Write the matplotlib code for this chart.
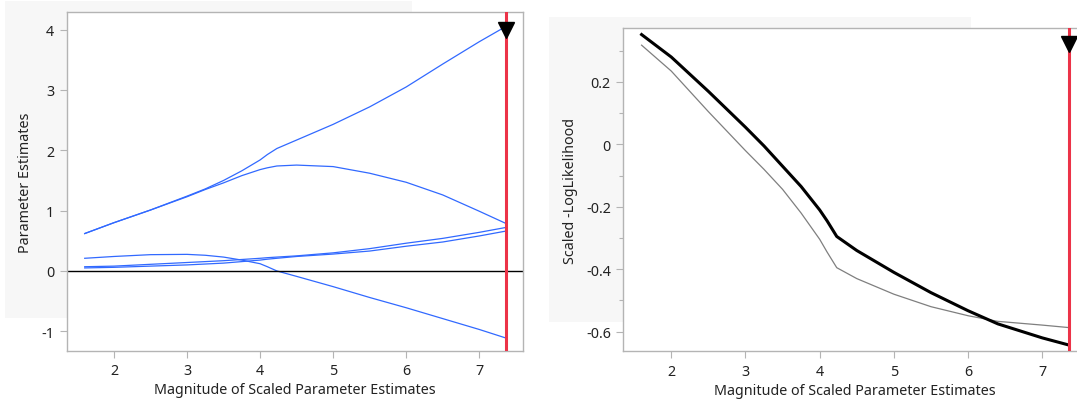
import matplotlib
matplotlib.use("Agg")
from matplotlib import pyplot as plt
from matplotlib.patches import Rectangle
from matplotlib.ticker import MultipleLocator

plt.rcParams['font.family'] = ['Noto Sans', 'DejaVu Sans']
plt.rcParams['axes.unicode_minus'] = False

# solution path x values (magnitude of scaled parameter estimates)
x = [1.6, 2.0, 2.5, 3.0, 3.25, 3.5, 3.75, 4.0, 4.1, 4.23, 4.5, 5.0, 5.5, 6.0, 6.5, 7.0, 7.36]

# parameter estimate paths
est_a = [0.62, 0.80, 1.01, 1.24, 1.36, 1.50, 1.66, 1.84, 1.93, 2.03, 2.17, 2.43, 2.72, 3.05, 3.43, 3.80, 4.05]
est_b = [0.62, 0.80, 1.01, 1.23, 1.35, 1.46, 1.58, 1.68, 1.71, 1.74, 1.755, 1.73, 1.62, 1.47, 1.26, 0.99, 0.79]
est_c = [0.21, 0.24, 0.27, 0.275, 0.26, 0.23, 0.18, 0.12, 0.07, 0.0, -0.09, -0.26, -0.44, -0.61, -0.79, -0.97, -1.11]
est_d = [0.07, 0.08, 0.11, 0.14, 0.155, 0.17, 0.19, 0.21, 0.22, 0.23, 0.25, 0.30, 0.37, 0.46, 0.54, 0.64, 0.72]
est_e = [0.05, 0.06, 0.08, 0.10, 0.115, 0.13, 0.155, 0.18, 0.195, 0.21, 0.24, 0.28, 0.33, 0.41, 0.48, 0.58, 0.66]

# scaled -loglikelihood
x_ll = [1.6, 2.0, 2.5, 3.0, 3.25, 3.5, 3.75, 4.0, 4.1, 4.23, 4.5, 5.0, 5.5, 6.0, 6.4, 7.0, 7.36]
ll_train = [0.352, 0.28, 0.17, 0.055, -0.005, -0.07, -0.135, -0.21, -0.245, -0.295, -0.34, -0.41, -0.475, -0.533, -0.575, -0.62, -0.643]
ll_valid = [0.318, 0.235, 0.105, -0.02, -0.08, -0.144, -0.22, -0.304, -0.345, -0.395, -0.43, -0.48, -0.52, -0.549, -0.567, -0.579, -0.587]

x_sel = 7.36

blue = '#3169FF'
red = '#EC3348'
spine_c = '#B4B4B4'

fig = plt.figure(figsize=(10.77, 4.10), dpi=100)

# light grey panels behind the plots
fig.patches.append(Rectangle((0.0046, 0.2212), 0.3776, 0.7739, transform=fig.transFigure,
                             facecolor='#F7F7F7', edgecolor='none', zorder=-5))
fig.patches.append(Rectangle((0.5097, 0.2129), 0.3918, 0.7424, transform=fig.transFigure,
                             facecolor='#F7F7F7', edgecolor='none', zorder=-5))

ax1 = fig.add_axes([0.0619, 0.1422, 0.4234, 0.8254])
ax2 = fig.add_axes([0.5787, 0.1407, 0.4300, 0.7878])

for ax in (ax1, ax2):
    ax.set_zorder(2)
    for s in ax.spines.values():
        s.set_color(spine_c)
        s.set_linewidth(1.0)
    ax.tick_params(which='major', direction='out', length=5, width=0.8, color=spine_c,
                   labelsize=10.3, labelcolor='#222222', pad=4)
    ax.tick_params(which='minor', direction='out', length=3, width=0.8, color=spine_c)
    ax.set_xlim(1.353, 7.594)
    ax.xaxis.set_major_locator(MultipleLocator(1))
    ax.set_xlabel('Magnitude of Scaled Parameter Estimates', fontsize=10.3, color='#222222', labelpad=3)

# left: parameter estimates
for y in (est_a, est_b, est_c, est_d, est_e):
    ax1.plot(x, y, color=blue, lw=0.9)
ax1.axhline(0, color='black', lw=1.0)
ax1.set_ylim(-1.322, 4.288)
ax1.yaxis.set_major_locator(MultipleLocator(1))
ax1.set_ylabel('Parameter Estimates', fontsize=10.3, color='#222222', labelpad=6)
ax1.axvline(x_sel, color=red, lw=2.2, zorder=3)
ax1.plot([x_sel], [0.949], marker='v', color='black', ms=11, transform=ax1.get_xaxis_transform(),
         clip_on=False, zorder=4)

# right: -loglikelihood
ax2.plot(x_ll, ll_valid, color='#7F7F7F', lw=0.9)
ax2.plot(x_ll, ll_train, color='black', lw=2.2)
ax2.set_ylim(-0.663, 0.372)
ax2.yaxis.set_minor_locator(MultipleLocator(0.1))
ax2.set_yticks([0.2, 0, -0.2, -0.4, -0.6])
ax2.set_yticklabels(['0.2', '0', '-0.2', '-0.4', '-0.6'])
ax2.set_ylabel('Scaled -LogLikelihood', fontsize=10.3, color='#222222', labelpad=6)
ax2.axvline(x_sel, color=red, lw=2.2, zorder=3)
ax2.plot([x_sel], [0.951], marker='v', color='black', ms=11, transform=ax2.get_xaxis_transform(),
         clip_on=False, zorder=4)

fig.savefig('out.png', dpi=100)
